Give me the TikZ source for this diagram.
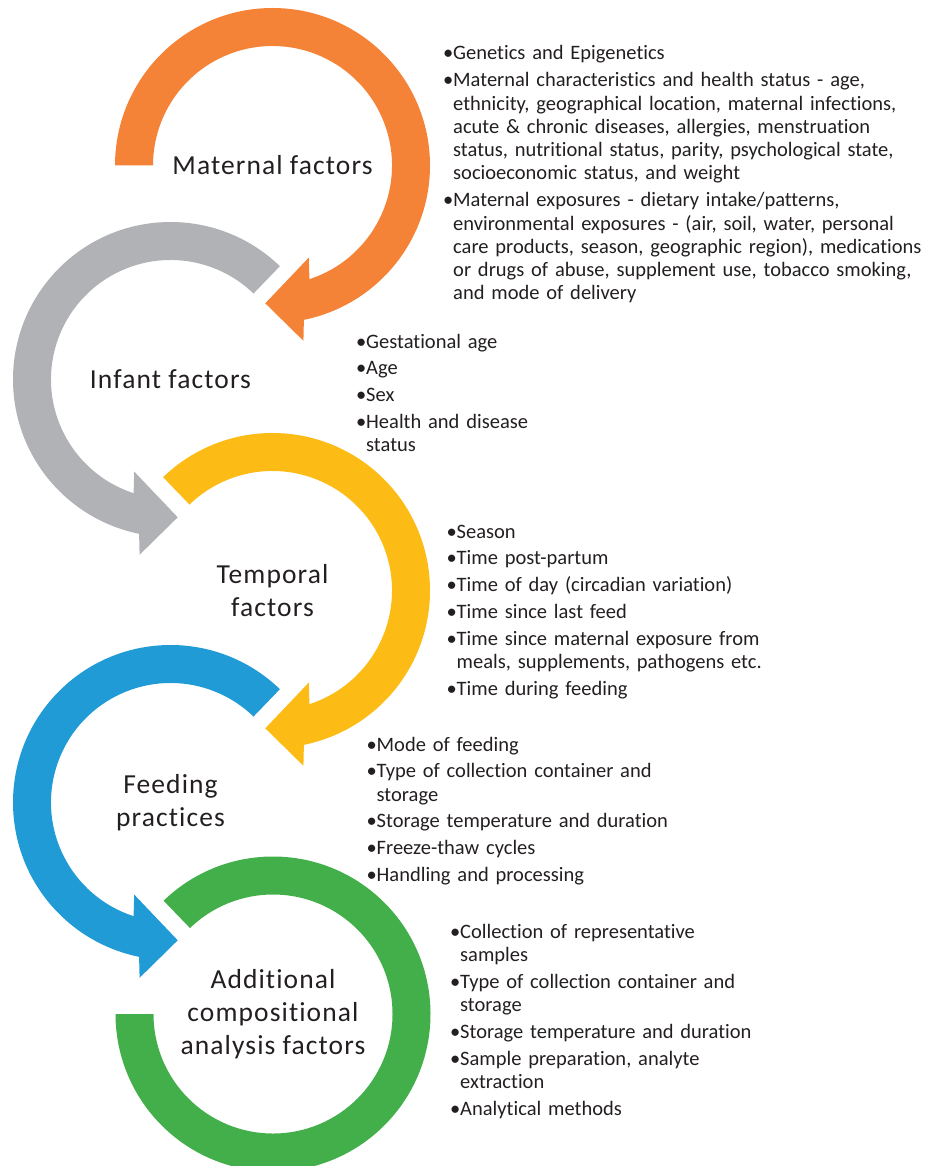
\documentclass[tikz,border=0pt]{standalone}
\usepackage{fontspec}
\setmainfont{Carlito}[Ligatures=NoCommon]
\newfontfamily\labelfont{Carlito}[Ligatures=NoCommon,LetterSpace=4]
\usepackage{tikz}

\definecolor{matorange}{RGB}{244,130,55}
\definecolor{infgray}{RGB}{176,178,181}
\definecolor{tmpyellow}{RGB}{252,187,21}
\definecolor{feedblue}{RGB}{33,155,214}
\definecolor{addgreen}{RGB}{67,175,74}
\definecolor{txtgray}{RGB}{35,31,32}

\newlength{\bulwd}\setlength{\bulwd}{10pt}
\newcommand{\itm}[1]{{\hangindent=\bulwd\hangafter=1\noindent\makebox[\bulwd][l]{\textbullet}#1\par}}

\begin{document}
\begin{tikzpicture}[x=1pt,y=1pt,
  factor/.style={align=center,inner sep=0pt,text=txtgray,font=\labelfont\fontsize{27.5}{33}\selectfont},
  facts/.style={anchor=base west,inner sep=0pt,text width=500pt,align=left,text=txtgray,font=\fontsize{20.5}{23.3}\selectfont}]
\useasboundingbox (0,0) rectangle (924,-1166);

\begin{scope}[shift={(272.5,-165.5)}]
\fill[matorange] (180:157.5) arc[start angle=180,end angle=-78.5,radius=157.5] -- (-80:178) -- (-93:138) -- (-68.5:99) -- (-72:119.5) arc[start angle=-72,end angle=180,radius=119.5] -- cycle;
\end{scope}
\begin{scope}[shift={(170.5,-379.5)}]
\fill[infgray] (46:157.5) arc[start angle=46,end angle=258.5,radius=157.5] -- (260:178) -- (273:138) -- (248.5:99) -- (252:119.5) arc[start angle=252,end angle=46,radius=119.5] -- cycle;
\end{scope}
\begin{scope}[shift={(272.5,-590.5)}]
\fill[tmpyellow] (134:157.5) arc[start angle=134,end angle=-78.5,radius=157.5] -- (-80:178) -- (-93:138) -- (-68.5:99) -- (-72:119.5) arc[start angle=-72,end angle=134,radius=119.5] -- cycle;
\end{scope}
\begin{scope}[shift={(170.5,-802.5)}]
\fill[feedblue] (46:157.5) arc[start angle=46,end angle=258.5,radius=157.5] -- (260:178) -- (273:138) -- (248.5:99) -- (252:119.5) arc[start angle=252,end angle=46,radius=119.5] -- cycle;
\end{scope}
\begin{scope}[shift={(273,-1014)}]
\fill[addgreen] (134:157.5) arc[start angle=134,end angle=-180,radius=157.5] -- (-180:119.5) arc[start angle=-180,end angle=134,radius=119.5] -- cycle;
\end{scope}

\node[factor] (maternal) at (272.5,-165.5) {Maternal factors};
\node[factor] (infant) at (170.5,-379.5) {Infant factors};
\node[factor] (temporal) at (272.5,-590.5) {Temporal\\factors};
\node[factor] (feeding) at (170.5,-802.5) {Feeding\\practices};
\node[factor] (additional) at (273,-1014) {Additional\\compositional\\analysis factors};

\node[facts] (maternallist) at (443,-60) {\setlength{\parskip}{3.5pt}%
\itm{Genetics and Epigenetics}%
\itm{Maternal characteristics and health status - age,\newline ethnicity, geographical location, maternal infections,\newline acute \& chronic diseases, allergies, menstruation\newline status, nutritional status, parity, psychological state,\newline socioeconomic status, and weight}%
\itm{Maternal exposures - dietary intake/patterns,\newline environmental exposures - (air, soil, water, personal\newline care products, season, geographic region), medications\newline or drugs of abuse, supplement use, tobacco smoking,\newline and mode of delivery}};

\node[facts] (infantlist) at (356,-348) {\setlength{\parskip}{3.5pt}%
\itm{Gestational age}%
\itm{Age}%
\itm{Sex}%
\itm{Health and disease\newline status}};

\node[facts] (temporallist) at (446.5,-538) {\setlength{\parskip}{3.5pt}%
\itm{Season}%
\itm{Time post-partum}%
\itm{Time of day (circadian variation)}%
\itm{Time since last feed}%
\itm{Time since maternal exposure from\newline meals, supplements, pathogens etc.}%
\itm{Time during feeding}};

\node[facts] (feedinglist) at (366.5,-751) {\setlength{\parskip}{3.5pt}%
\itm{Mode of feeding}%
\itm{Type of collection container and\newline storage}%
\itm{Storage temperature and duration}%
\itm{Freeze-thaw cycles}%
\itm{Handling and processing}};

\node[facts] (additionallist) at (450,-938) {\setlength{\parskip}{3.5pt}%
\itm{Collection of representative\newline samples}%
\itm{Type of collection container and\newline storage}%
\itm{Storage temperature and duration}%
\itm{Sample preparation, analyte\newline extraction}%
\itm{Analytical methods}};
\end{tikzpicture}
\end{document}
